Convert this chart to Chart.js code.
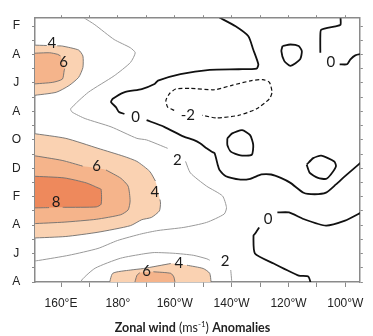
<!DOCTYPE html>
<html><head><meta charset="utf-8">
<script src="https://cdn.jsdelivr.net/npm/chart.js@4"></script>
<style>
html,body{margin:0;padding:0;background:#fff;}
#wrap{position:relative;width:373px;height:336px;}
#title{position:absolute;left:0;width:385px;top:320px;text-align:center;font-family:Lato,'Open Sans',sans-serif;font-size:12.5px;color:#222;white-space:nowrap;line-height:15px;}
#title sup{font-size:8px;vertical-align:5px;line-height:0;}
</style></head><body>
<div id="wrap"><canvas id="c" width="373" height="336"></canvas>
<div id="title"><b>Zonal wind</b> (ms<sup>-1</sup>) <b>Anomalies</b></div></div>
<script>
// ---- axis ticks / labels ----
const lonTicks = [160,170,180,190,200,210,220,230,240,250,260];
const lonLabelValues = [160,180,200,220,240,260];
const lonLabelText = ['160°E','180°','160°W','140°W','120°W','100°W'];
const monthTicks = [0,1,2,3,4,5,6,7,8,9,10,11,12,13,14,15,16,17,18];
const monthLetters = ['F','A','J','A','O','D','F','A','J','A']; // every 2 months, from top

// ---- contours: [longitude (°E), month index from top] ; null = gap for a label ----
const shade4_topleft = [[150,1.34],[155,1.37],null,[158.7,1.39],[160.5,1.41],[166.2,1.69],[167.7,2.11],[167.7,2.92],[166.2,3.61],[162.8,4.19],[158.3,4.66],[150,4.89]];
const shade6_topleft = [[150,1.92],[156.0,1.88],[158.8,1.99],[159.8,2.1],null,[161.3,3.0],[161.1,3.15],[160.5,3.73],[157.1,3.96],[150,4.08]];
const shade4_middle = [[150,7.55],[161.7,7.90],[173.0,8.60],[182.2,9.17],[186.7,9.52],[191.2,10.22],[193.2,10.9],null,[194.8,12.2],[195.0,12.44],[194.6,13.00],[191.8,13.46],[188.4,13.62],[184.4,14.04],[173.0,14.50],[161.7,14.80],[150,14.91]];
const shade6_middle = [[150,9.1],[160.4,9.45],[167.6,9.85],null,[175.8,10.12],[181.0,10.70],[183.6,11.26],[184.3,12.30],[183.6,12.93],[181.0,13.27],[172.4,13.59],[161.1,13.79],[150,13.90]];
const shade8_middle = [[150,10.56],[161.1,10.68],[168.9,11.03],[173.0,11.38],[174.1,11.49],[174.1,12.53],[172.4,12.72],[161.1,12.75],[160.6,12.75],null,[155.8,12.77],[150,12.79]];
const shade4_bottom = [[176.8,18.3],[178.2,17.39],[184.4,17.16],[189.0,17.05],[198.6,16.70],null,[204.3,16.82],[210.0,17.05],[212.3,17.39],[212.9,18.3]];
const shade6_bottom = [[185.6,18.3],[186.7,17.53],[187.7,17.35],null,[192.5,17.28],[198.6,17.39],[199.7,17.65],[200.3,18.3]];
const contour2_main = [[167.9,-0.6],[171.9,-0.09],[178.7,0.95],[184.4,1.53],[186.1,1.88],[184.4,2.57],[178.7,3.50],[169.6,4.66],[163.4,5.82],[163.9,6.05],[168.5,6.51],[177.6,7.09],[186.7,7.90],[190.1,8.01],[197.5,8.60],null,[203.8,9.52],[205.5,10.33],[211.2,11.26],[216.8,11.95],[218.2,12.77],[217.4,13.22],[211.2,13.81],[203.2,14.16],[194.1,14.38],[188.4,14.61],[179.9,15.08],[173.0,15.64],[162.8,16.12],[152.6,16.47],[150,16.54]];
const contour2_bottom = [[166.9,18.3],[167.3,17.86],[172.0,17.03],[180.9,16.33],[189.1,16.02],[192.8,15.93],[199.7,15.98],[206.5,16.12],[211.3,16.37],[212.3,16.47],null,[219.7,17.16],[220.2,18.3]];
const contour0_main = [[215.7,-0.6],[221.4,0.02],[225.9,0.72],[227.6,1.65],[229.4,2.69],[228.8,2.99],[222.5,3.04],[212.3,3.08],[202.0,3.38],[194.1,3.84],[192.9,4.08],[188.4,4.43],[182.2,4.66],[178.2,5.12],[177.6,5.35],[179.3,5.70],[180.4,6.05],[182.3,6.18],null,[190.1,6.62],[196.3,7.09],[203.2,7.78],[206.6,8.01],[208.9,8.25],[211.2,8.60],[212.9,8.83],[214.0,8.94],[215.1,9.75],[215.7,10.10],[218.0,10.56],[222.5,10.79],[226.6,10.74],[230.5,10.44],[233.9,10.44],[237.3,10.68],[240.7,11.03],[245.3,11.72],[249.2,11.83],[253.2,11.72],[256.7,11.14],[259.9,10.56],[264.6,9.75],[265.9,9.52]];
const contour0_topright = [[258.3,-0.6],[258.3,-0.09],[256.6,0.02],[251.5,0.26],[251.2,0.72],[251.2,1.88],null,[258.0,2.69],[260.6,2.69],[261.8,2.34],[263.5,2.06],[265.9,1.95]];
const contour0_loopC = [[237.9,1.41],[240.7,1.30],[243.6,1.41],[244.7,1.76],[244.1,2.34],[240.7,2.80],[238.5,2.45],[237.5,1.76],[237.9,1.41]];
const contour0_loopD = [[218.5,7.90],[220.2,7.55],[223.7,7.32],[226.5,7.67],[227.6,8.36],[227.1,9.05],[223.1,9.10],[219.7,8.83],[218.5,8.36],[218.5,7.90]];
const contour0_loopE = [[246.4,9.75],[248.7,9.29],[251.5,9.12],[256.1,9.52],[256.7,9.87],[254.9,10.44],[253.2,10.75],[250.4,10.68],[247.5,10.33],[246.4,9.75]];
const contour0_lower = [[265.9,13.06],[264.6,13.22],[259.9,13.69],[253.2,14.04],[245.3,13.57],[240.2,13.11],[236.1,13.11],null,[229.7,14.16],[228.2,14.61],[227.7,14.73],[228.2,16.00],[234.8,16.70],[243.6,17.55],[247.0,17.62],[248.1,18.3]];
const contourNeg2 = [[199.8,5.93],[197.5,5.70],[196.9,5.23],[198.1,4.77],[200.3,4.43],[205.5,4.38],[214.0,4.48],[220.1,4.17],[227.0,3.84],[231.0,3.77],[233.3,3.96],[234.2,4.66],[233.3,5.12],[228.8,5.82],[222.5,6.28],[214.7,6.46],[209.6,6.28]];

// ---- contour labels ----
const labelText  = ['4','6','0','-2','0','2','6','4','8','0','4','6','2'];
const labelLon   = [156.8,160.9,186.2,204.6,254.9,200.9,172.5,193.0,158.3,232.8,201.4,190.1,217.7];
const labelMonth = [1.18,2.55,6.39,6.28,2.54,9.40,9.87,11.67,12.42,13.57,16.70,17.27,16.53];

// ---- helpers ----
const toPts = arr => arr.filter(p => p).map(([x, y]) => ({x, y}));
function splitAtGaps(arr){ const segs=[[]]; arr.forEach(p=>{ if(p===null) segs.push([]); else segs[segs.length-1].push({x:p[0],y:p[1]}); }); return segs.filter(s=>s.length>1); }

const C_LIGHT='#FAD2B2', C_MID='#F5B48B', C_DARK='#EE895C';
const datasets = [];
function fillSet(arr,color,order){ datasets.push({data:toPts(arr),showLine:true,fill:'shape',backgroundColor:color,borderWidth:0,pointRadius:0,tension:0.2,order}); }
function lineSet(arr,color,width,dash,order){ splitAtGaps(arr).forEach(seg=>datasets.push({data:seg,showLine:true,fill:false,borderColor:color,borderWidth:width,borderDash:dash||[],pointRadius:0,tension:0.2,order})); }

fillSet(shade4_topleft,C_LIGHT,5); fillSet(shade4_middle,C_LIGHT,5); fillSet(shade4_bottom,C_LIGHT,5);
fillSet(shade6_topleft,C_MID,4); fillSet(shade6_middle,C_MID,4); fillSet(shade6_bottom,C_MID,4);
fillSet(shade8_middle,C_DARK,3);
const SH='#6e6e6e';
[shade4_topleft,shade6_topleft,shade4_middle,shade6_middle,shade8_middle,shade4_bottom,shade6_bottom].forEach(a=>lineSet(a,SH,0.9,null,1));
[contour2_main,contour2_bottom].forEach(a=>lineSet(a,'#9a9a9a',1,null,1));
[contour0_main,contour0_topright,contour0_loopC,contour0_loopD,contour0_loopE,contour0_lower].forEach(a=>lineSet(a,'#111',1.8,null,0));
lineSet(contourNeg2,'#111',1.2,[4,2.5],0);

const labelPlugin = {id:'contourLabels', afterDatasetsDraw(chart){
  const {ctx, scales:{x, y}} = chart; ctx.save();
  ctx.font = '15px Lato, "Open Sans", sans-serif'; ctx.fillStyle = '#1a1a1a'; ctx.textAlign='center'; ctx.textBaseline='middle';
  labelText.forEach((t,i)=>ctx.fillText(t, x.getPixelForValue(labelLon[i]), y.getPixelForValue(labelMonth[i])));
  ctx.restore(); }};

const AX='#8a8a8a';
const XMIN=150.85, XMAX=265.1, YMIN=-0.55, YMAX=18;
const lonTickBuild = s => { s.ticks = lonTicks.map(v=>({value:v})); };
const monthTickBuild = s => { s.ticks = monthTicks.map(v=>({value:v})); };
const tickFont = {family:"'Liberation Sans', Arial, sans-serif", size:12};

new Chart(document.getElementById('c'), {
  type:'scatter',
  data:{datasets},
  options:{
    responsive:false, animation:false, devicePixelRatio:1,
    layout:{padding:0},
    plugins:{legend:{display:false}, tooltip:{enabled:false}, title:{display:false}},
    scales:{
      x:{type:'linear',position:'bottom',min:XMIN,max:XMAX,afterBuildTicks:lonTickBuild,afterFit:s=>{s.height=54;},
         border:{display:true,color:AX,width:1.5},
         grid:{drawOnChartArea:false,drawTicks:true,tickLength:5,color:AX,lineWidth:1},
         ticks:{autoSkip:false,maxRotation:0,padding:9,color:'#222',font:tickFont,
                callback:v=>{const i=lonLabelValues.indexOf(v);return i>=0?lonLabelText[i]:'';}}},
      x2:{type:'linear',position:'top',min:XMIN,max:XMAX,afterBuildTicks:lonTickBuild,afterFit:s=>{s.height=15;},
         border:{display:true,color:AX,width:1.5},
         grid:{drawOnChartArea:false,drawTicks:true,tickLength:3,color:AX,lineWidth:1},
         ticks:{display:false}},
      y:{type:'linear',position:'left',reverse:true,min:YMIN,max:YMAX,afterBuildTicks:monthTickBuild,afterFit:s=>{s.width=35;},
         border:{display:true,color:AX,width:1.5},
         grid:{drawOnChartArea:false,drawTicks:true,tickLength:3,color:AX,lineWidth:1},
         ticks:{autoSkip:false,crossAlign:'center',padding:11,color:'#222',font:tickFont,
                callback:v=>(v%2===0?monthLetters[v/2]:'')}},
      y2:{type:'linear',position:'right',reverse:true,min:YMIN,max:YMAX,afterBuildTicks:monthTickBuild,afterFit:s=>{s.width=3;},
         border:{display:true,color:AX,width:1.5},
         grid:{drawOnChartArea:false,drawTicks:true,tickLength:3,color:AX,lineWidth:1},
         ticks:{display:false}}
    }
  },
  plugins:[labelPlugin]
});
</script>
</body></html>
